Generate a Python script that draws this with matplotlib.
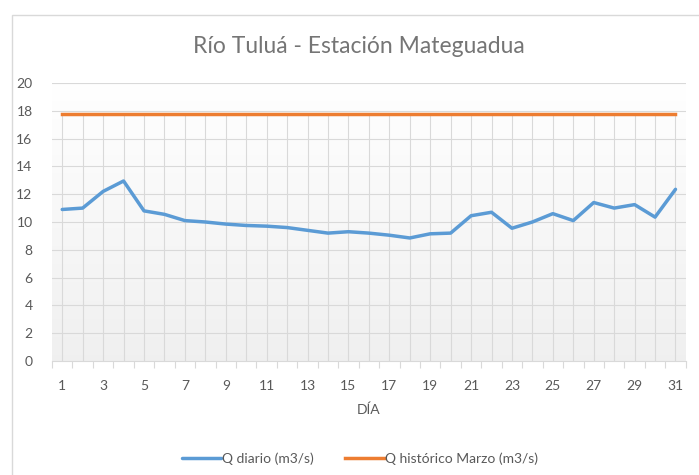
import numpy as np
import matplotlib.pyplot as plt
from matplotlib.patches import Rectangle

# data
dias = list(range(1, 32))
q_diario = [10.9, 11.0, 12.2, 12.95, 10.8, 10.55, 10.1, 10.0, 9.85, 9.75,
            9.7, 9.6, 9.4, 9.2, 9.3, 9.2, 9.05, 8.85, 9.15, 9.2,
            10.45, 10.7, 9.55, 10.0, 10.6, 10.1, 11.4, 11.0, 11.25, 10.35, 12.35]
q_historico = [17.8] * 31
yticks = list(range(0, 21, 2))
xticks = list(range(1, 32, 2))

plt.rcParams['font.family'] = ['Lato', 'DejaVu Sans']
gris = '#595959'
grid_c = '#d9d9d9'

fig = plt.figure(figsize=(6.99, 4.75), dpi=100)
ax = fig.add_axes([0.0744, 0.24, 0.9066, 0.5853])

# chart border (cropped in the reference)
fig.patches.append(Rectangle((12 / 699, -0.1), 1.2, (475 - 15) / 475 + 0.1,
                             transform=fig.transFigure, fill=False,
                             edgecolor='#d9d9d9', linewidth=1))

# plot area gradient, white at top to light grey at bottom
t = np.linspace(0, 1, 256).reshape(-1, 1, 1)
top = np.array([1.0, 1.0, 1.0])
bot = np.array([0.94, 0.94, 0.94])
grad = bot + (top - bot) * t
ax.imshow(grad, extent=[0.5, 31.5, 0, 20], aspect='auto',
          zorder=0, origin='lower')

# drop lines and gridlines
ax.vlines(dias, 0, q_historico, color=grid_c, linewidth=0.8, zorder=1)
for y in yticks[1:]:
    ax.axhline(y, color=grid_c, linewidth=0.8, zorder=1)

ax.plot(dias, q_diario, color='#5B9BD5', linewidth=2.5, zorder=3,
        solid_capstyle='round', label='Q diario (m3/s)')
ax.plot(dias, q_historico, color='#ED7D31', linewidth=2.5, zorder=3,
        label='Q histórico Marzo (m3/s)')

ax.set_xlim(0.5, 31.5)
ax.set_ylim(0, 20)
ax.set_yticks(yticks)
ax.set_xticks(xticks)
ax.set_xticks(np.arange(0.5, 32, 1), minor=True)
ax.tick_params(axis='x', which='major', length=0, colors=gris, labelsize=10, pad=14)
ax.tick_params(axis='x', which='minor', length=5, color=grid_c, width=0.8)
ax.tick_params(axis='y', length=0, colors=gris, labelsize=10, pad=14)
for s in ['top', 'right', 'left']:
    ax.spines[s].set_visible(False)
ax.spines['bottom'].set_color(grid_c)
ax.spines['bottom'].set_linewidth(0.8)

ax.set_xlabel('DÍA', color=gris, fontsize=10, labelpad=8)
fig.text(0.514, 0.903, 'Río Tuluá - Estación Mateguadua', ha='center', va='center',
         fontsize=16.5, color='#757575')

fig.legend(loc='center', bbox_to_anchor=(0.515, 0.034), ncol=2, frameon=False,
           fontsize=10, labelcolor=gris, handlelength=2.8, handletextpad=0.1,
           columnspacing=2.2)

fig.savefig('out.png', dpi=100)
